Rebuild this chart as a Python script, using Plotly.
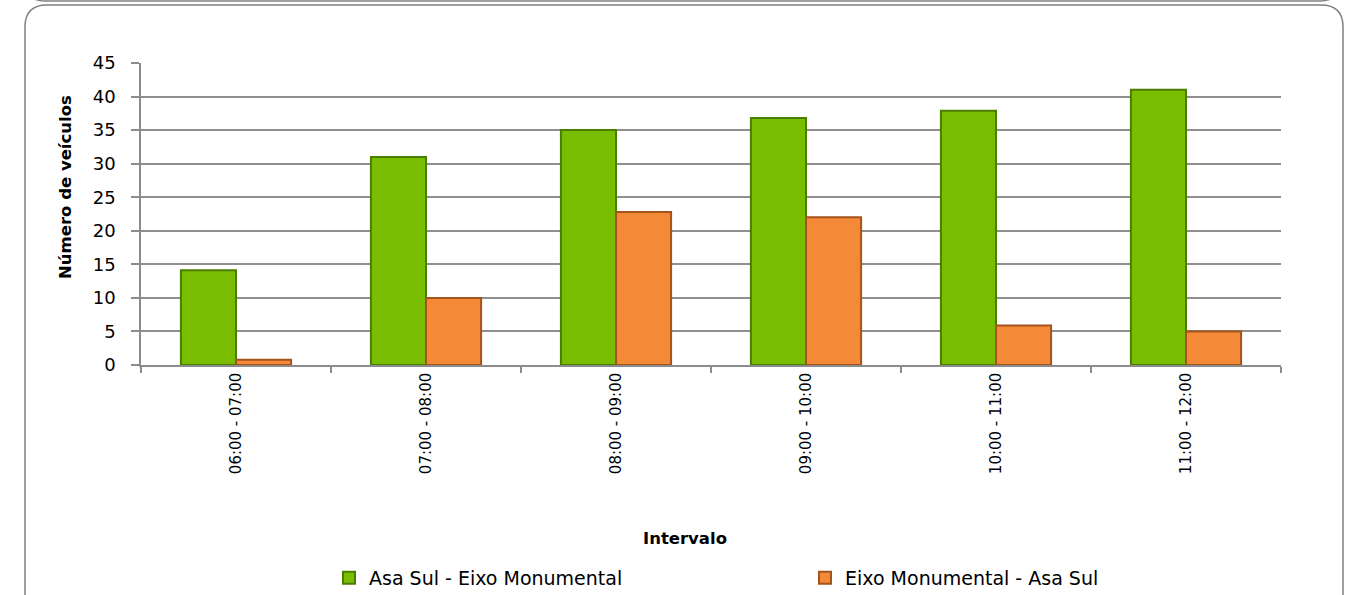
import plotly.graph_objects as go

categories = ["06:00 - 07:00", "07:00 - 08:00", "08:00 - 09:00",
              "09:00 - 10:00", "10:00 - 11:00", "11:00 - 12:00"]
asa_sul_eixo = [14.1, 31, 35, 36.8, 37.9, 41]
eixo_asa_sul = [0.8, 10, 22.8, 22, 5.9, 5]
series_names = ["Asa Sul - Eixo Monumental", "Eixo Monumental - Asa Sul"]
y_ticks = [0, 5, 10, 15, 20, 25, 30, 35, 40, 45]

W, H = 1357, 595
L, R, T, B = 141, 1281, 63, 365
FONT = "DejaVu Sans, Verdana, sans-serif"


def px(x):
    return (x - L) / (R - L)


def py(y):
    return (B - y) / (B - T)


fig = go.Figure()
fig.add_trace(go.Bar(
    x=categories, y=asa_sul_eixo, name=series_names[0],
    marker=dict(color="#78bd00", line=dict(color="#4b7d00", width=2)),
))
fig.add_trace(go.Bar(
    x=categories, y=eixo_asa_sul, name=series_names[1],
    marker=dict(color="#f48a38", line=dict(color="#a5531c", width=2)),
))

# rounded outer frame
r = 22
x0, x1, y0, y1 = 25, 1343, 5, 640
path = (f"M {px(x0)},{py(y1)} L {px(x0)},{py(y0 + r)} "
        f"Q {px(x0)},{py(y0)} {px(x0 + r)},{py(y0)} "
        f"L {px(x1 - r)},{py(y0)} Q {px(x1)},{py(y0)} {px(x1)},{py(y0 + r)} "
        f"L {px(x1)},{py(y1)}")
fig.add_shape(type="path", xref="paper", yref="paper", path=path,
              line=dict(color="#808080", width=1.5), layer="below")
# bottom edge of the chart above
path2 = (f"M {px(22)},{py(-15)} Q {px(28)},{py(1)} {px(45)},{py(1)} "
         f"L {px(1320)},{py(1)} Q {px(1337)},{py(1)} {px(1343)},{py(-15)}")
fig.add_shape(type="path", xref="paper", yref="paper", path=path2,
              line=dict(color="#808080", width=1.5), layer="below")

fig.add_annotation(text="<b>Intervalo</b>", xref="paper", yref="paper",
                   x=px(685), y=py(538), showarrow=False,
                   xanchor="center", yanchor="middle",
                   font=dict(family=FONT, size=16.5, color="#000"))
fig.add_annotation(text="<b>Número de veículos</b>", xref="paper", yref="paper",
                   x=px(65), y=py(187), showarrow=False, textangle=-90,
                   xanchor="center", yanchor="middle",
                   font=dict(family=FONT, size=16.5, color="#000"))

fig.update_layout(
    width=W, height=H,
    margin=dict(l=L, r=W - R, t=T, b=H - B),
    paper_bgcolor="white", plot_bgcolor="white",
    barmode="group", bargap=0.42, bargroupgap=0,
    font=dict(family=FONT, size=15, color="#000"),
    showlegend=True,
    legend=dict(orientation="h", xref="container", yref="container",
                x=329 / W, y=(H - 578) / H, xanchor="left", yanchor="middle",
                entrywidth=431, entrywidthmode="pixels",
                font=dict(family=FONT, size=19, color="#000"), itemwidth=30,
                bgcolor="rgba(0,0,0,0)"),
    xaxis=dict(type="category", tickangle=-90, tickson="boundaries",
               ticks="outside", ticklen=6, tickcolor="#8c8c8c", tickwidth=1.5,
               showline=True, linecolor="#8c8c8c", linewidth=1.5,
               tickfont=dict(family=FONT, size=15), showgrid=False,
               automargin=False),
    yaxis=dict(range=[0, 45], tickvals=y_ticks, ticks="outside", ticklen=8,
               tickcolor="#8c8c8c", tickwidth=1.5, showline=True,
               linecolor="#8c8c8c", linewidth=1.5, showgrid=True,
               gridcolor="#8f8f8f", gridwidth=1.5, zeroline=False,
               ticklabelstandoff=12, automargin=False,
               tickfont=dict(family=FONT, size=18)),
)

fig.write_html("out.html",
               config={"displayModeBar": False},
               post_script="document.body.style.margin='0';"
                           "document.body.style.overflow='hidden';")
